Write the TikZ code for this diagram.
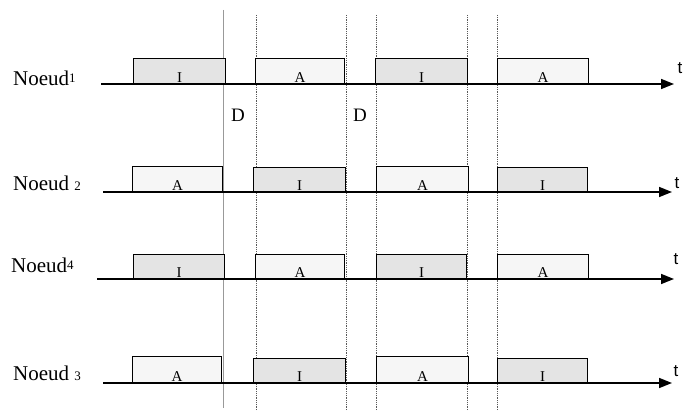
\documentclass[tikz,border=0pt]{standalone}
\usepackage{fontspec}
\setmainfont{Liberation Serif}
\newfontfamily\tfont{Liberation Sans}
\usetikzlibrary{arrows.meta}
\definecolor{ifill}{HTML}{E4E4E4}
\definecolor{afill}{HTML}{F6F6F6}
\begin{document}
\begin{tikzpicture}[x=1pt,y=-1pt,
  tbox/.style={draw=black,line width=1.2pt,inner sep=0pt,anchor=south west},
  lt/.style={anchor=south,inner sep=1.2pt,font=\fontsize{15}{15}\selectfont},
  ibox/.style={tbox,fill=ifill,label={[lt]south:I}},
  abox/.style={tbox,fill=afill,label={[lt]south:A}},
  axis/.style={line width=1.6pt,-{Triangle[length=13pt,width=10pt]}},
  vsolid/.style={draw=gray!80,line width=0.8pt},
  vdot/.style={draw=black!65,line width=1pt,dash pattern=on 0.9pt off 0.9pt},
  nlabel/.style={anchor=west,inner sep=0pt,font=\fontsize{21}{21}\selectfont},
  dig/.style={},
  tlabel/.style={inner sep=0pt,font=\tfont\fontsize{17}{17}\selectfont},
  dlabel/.style={inner sep=0pt,font=\fontsize{19}{19}\selectfont}]
\useasboundingbox (0,0) rectangle (683,411);
% vertical lines
\coordinate (s0t) at (223,10); \coordinate (s0b) at (223,408);
\draw[vsolid] (s0t) -- (s0b);
\foreach \i/\x in {1/256,2/346,3/376,4/467,5/497}{
  \coordinate (v\i t) at (\x,15); \coordinate (v\i b) at (\x,411);
  \draw[vdot] (v\i t) -- (v\i b);
}
% row 1
\coordinate (a1s) at (101,84); \coordinate (a1e) at (674,84);
\node[ibox,minimum width=92pt,minimum height=25pt] (b11) at (133,84) {};
\node[abox,minimum width=89pt,minimum height=25pt] (b12) at (255,84) {};
\node[ibox,minimum width=92pt,minimum height=25pt] (b13) at (375,84) {};
\node[abox,minimum width=91pt,minimum height=25pt] (b14) at (497,84) {};
\draw[axis] (a1s) -- (a1e);
\node[nlabel] (n1) at (13,78) {Noeud{\fontsize{13}{13}\selectfont\raisebox{3pt}{1}}};
\node[tlabel] (t1) at (680,68) {t};
% row 2
\coordinate (a2s) at (103,192); \coordinate (a2e) at (672,192);
\node[abox,minimum width=90pt,minimum height=25pt] (b21) at (132,192) {};
\node[ibox,minimum width=92pt,minimum height=24pt] (b22) at (253,192) {};
\node[abox,minimum width=92pt,minimum height=25pt] (b23) at (376,192) {};
\node[ibox,minimum width=90pt,minimum height=24pt] (b24) at (497,192) {};
\draw[axis] (a2s) -- (a2e);
\node[nlabel] (n2) at (13,183) {Noeud {\fontsize{13}{13}\selectfont 2}};
\node[tlabel] (t2) at (677,183) {t};
% row 3
\coordinate (a3s) at (97,279); \coordinate (a3e) at (674,279);
\node[ibox,minimum width=91pt,minimum height=24pt] (b31) at (133,279) {};
\node[abox,minimum width=89pt,minimum height=24pt] (b32) at (255,279) {};
\node[ibox,minimum width=90pt,minimum height=24pt] (b33) at (376,279) {};
\node[abox,minimum width=91pt,minimum height=24pt] (b34) at (497,279) {};
\draw[axis] (a3s) -- (a3e);
\node[nlabel] (n3) at (11,265) {Noeud{\fontsize{13}{13}\selectfont\raisebox{3pt}{4}}};
\node[tlabel] (t3) at (676,259) {t};
% row 4
\coordinate (a4s) at (103,383); \coordinate (a4e) at (672,383);
\node[abox,minimum width=89pt,minimum height=26pt] (b41) at (132,383) {};
\node[ibox,minimum width=92pt,minimum height=24pt] (b42) at (253,383) {};
\node[abox,minimum width=92pt,minimum height=26pt] (b43) at (376,383) {};
\node[ibox,minimum width=90pt,minimum height=24pt] (b44) at (497,383) {};
\draw[axis] (a4s) -- (a4e);
\node[nlabel] (n4) at (13,373) {Noeud {\fontsize{13}{13}\selectfont 3}};
\node[tlabel] (t4) at (676,371) {t};
% D labels
\node[dlabel] (d1) at (238,115) {D};
\node[dlabel] (d2) at (360,115) {D};
\end{tikzpicture}
\end{document}
